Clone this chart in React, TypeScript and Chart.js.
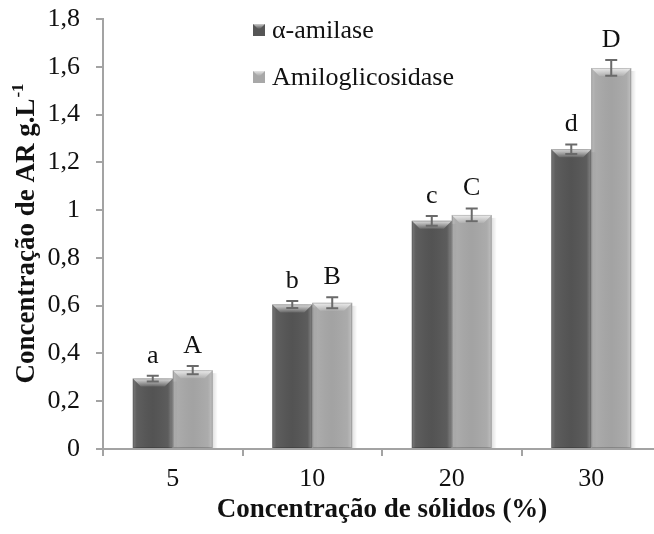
import React, { useEffect, useRef } from "react";
import { Chart, registerables } from "chart.js";

Chart.register(...registerables);

// Solids concentration (%) on the category axis
const categories = ["5", "10", "20", "30"];

// Reducing sugars (g/L) per enzyme, with standard deviations
const amilaseValues = [0.295, 0.605, 0.955, 1.255];
const amilaseErrors = [0.012, 0.015, 0.02, 0.02];
const amiloglicosidaseValues = [0.33, 0.612, 0.98, 1.595];
const amiloglicosidaseErrors = [0.017, 0.023, 0.027, 0.033];

// Significance letters above each bar
const amilaseLetters = ["a", "b", "c", "d"];
const amiloglicosidaseLetters = ["A", "B", "C", "D"];

const seriesLabels = ["α-amilase", "Amiloglicosidase"];
const seriesColors = ["#565656", "#a8a8a8"];

const yMin = 0;
const yMax = 1.8;
const yStep = 0.2;

const xTitle = "Concentração de sólidos (%)";
const yTitleMain = "Concentração de AR g.L";
const yTitleSup = "-1";

const FONT = '"Liberation Serif", "Times New Roman", serif';
const TEXT_SIZE = 26;
const TITLE_SIZE = 27;
const AXIS_GREY = "#a3a3a3";

const errorSets = [amilaseErrors, amiloglicosidaseErrors];
const letterSets = [amilaseLetters, amiloglicosidaseLetters];

const formatTick = (v: number) => String(Number(v.toFixed(1))).replace(".", ",");

// Bevelled look for the bars: lighter sides and a bright top chamfer
const barStylePlugin = {
  id: "barStyle",
  afterDatasetsDraw(chart: any) {
    const ctx = chart.ctx;
    chart.data.datasets.forEach((_ds: any, di: number) => {
      const meta = chart.getDatasetMeta(di);
      meta.data.forEach((bar: any) => {
        const { x, y, base, width } = bar.getProps(["x", "y", "base", "width"], true);
        const x0 = x - width / 2;
        const x1 = x + width / 2;
        const h = base - y;
        ctx.save();
        const sg = ctx.createLinearGradient(x1, 0, x1 + 5, 0);
        sg.addColorStop(0, "rgba(0,0,0,0.12)");
        sg.addColorStop(1, "rgba(0,0,0,0)");
        ctx.fillStyle = sg;
        ctx.fillRect(x1, y + 3, 5, h - 3);

        const g = ctx.createLinearGradient(x0, 0, x1, 0);
        g.addColorStop(0, "rgba(255,255,255,0.22)");
        g.addColorStop(0.1, "rgba(255,255,255,0.05)");
        g.addColorStop(0.5, "rgba(0,0,0,0.03)");
        g.addColorStop(0.88, "rgba(255,255,255,0.04)");
        g.addColorStop(1, "rgba(255,255,255,0.28)");
        ctx.fillStyle = g;
        ctx.fillRect(x0, y, width, h);

        const b = 8;
        ctx.beginPath();
        ctx.moveTo(x0, y);
        ctx.lineTo(x1, y);
        ctx.lineTo(x1 - b, y + b);
        ctx.lineTo(x0 + b, y + b);
        ctx.closePath();
        const tg = ctx.createLinearGradient(0, y, 0, y + b);
        tg.addColorStop(0, "rgba(255,255,255,0.8)");
        tg.addColorStop(1, "rgba(255,255,255,0.1)");
        ctx.fillStyle = tg;
        ctx.fill();

        ctx.strokeStyle = "rgba(0,0,0,0.18)";
        ctx.lineWidth = 1;
        ctx.strokeRect(x0 + 0.5, y + 0.5, width - 1, h - 1);
        ctx.restore();
      });
    });
  },
};

// Error bars and significance letters
const annotationsPlugin = {
  id: "annotations",
  afterDatasetsDraw(chart: any) {
    const ctx = chart.ctx;
    const yScale = chart.scales.y;
    chart.data.datasets.forEach((ds: any, di: number) => {
      const meta = chart.getDatasetMeta(di);
      meta.data.forEach((bar: any, i: number) => {
        const v = ds.data[i];
        const e = errorSets[di][i];
        const x = bar.x;
        const top = yScale.getPixelForValue(v + e);
        const bot = yScale.getPixelForValue(v - e);
        ctx.save();
        ctx.strokeStyle = "#6a6a6a";
        ctx.lineWidth = 2;
        ctx.beginPath();
        ctx.moveTo(x, top);
        ctx.lineTo(x, bot);
        ctx.moveTo(x - 6, top);
        ctx.lineTo(x + 6, top);
        ctx.moveTo(x - 6, bot);
        ctx.lineTo(x + 6, bot);
        ctx.stroke();

        ctx.fillStyle = "#111";
        ctx.font = `${TEXT_SIZE}px ${FONT}`;
        ctx.textAlign = "center";
        ctx.textBaseline = "alphabetic";
        ctx.fillText(letterSets[di][i], x, top - 13);
        ctx.restore();
      });
    });
  },
};

// Legend inside the plot, axis titles
const decorPlugin = {
  id: "decor",
  afterDraw(chart: any) {
    const ctx = chart.ctx;
    const area = chart.chartArea;
    ctx.save();

    // legend
    const lx = 253;
    const rows = [24, 71];
    seriesLabels.forEach((label, i) => {
      const sy = rows[i];
      ctx.fillStyle = seriesColors[i];
      ctx.fillRect(lx, sy, 12, 12);
      const tg = ctx.createLinearGradient(0, sy, 0, sy + 5);
      tg.addColorStop(0, "rgba(255,255,255,0.7)");
      tg.addColorStop(1, "rgba(255,255,255,0)");
      ctx.fillStyle = tg;
      ctx.beginPath();
      ctx.moveTo(lx, sy);
      ctx.lineTo(lx + 12, sy);
      ctx.lineTo(lx + 7, sy + 5);
      ctx.lineTo(lx + 5, sy + 5);
      ctx.closePath();
      ctx.fill();
      ctx.fillStyle = "#111";
      ctx.font = `${TEXT_SIZE}px ${FONT}`;
      ctx.textAlign = "left";
      ctx.textBaseline = "alphabetic";
      ctx.fillText(label, lx + 19, sy + 14);
    });

    // x axis title
    ctx.fillStyle = "#111";
    ctx.font = `bold ${TITLE_SIZE}px ${FONT}`;
    ctx.textAlign = "center";
    ctx.textBaseline = "alphabetic";
    ctx.fillText(xTitle, (area.left + area.right) / 2, 517);

    // y axis title with superscript
    const cy = (area.top + area.bottom) / 2;
    ctx.translate(34, cy);
    ctx.rotate(-Math.PI / 2);
    ctx.font = `bold ${TITLE_SIZE}px ${FONT}`;
    const wMain = ctx.measureText(yTitleMain).width;
    ctx.font = `bold 17px ${FONT}`;
    const wSup = ctx.measureText(yTitleSup).width;
    const start = -(wMain + wSup) / 2;
    ctx.textAlign = "left";
    ctx.font = `bold ${TITLE_SIZE}px ${FONT}`;
    ctx.fillText(yTitleMain, start, 0);
    ctx.font = `bold 17px ${FONT}`;
    ctx.fillText(yTitleSup, start + wMain + 1, -11);
    ctx.restore();
  },
};

export default function App() {
  const canvasRef = useRef<HTMLCanvasElement | null>(null);

  useEffect(() => {
    if (!canvasRef.current) return;
    const chart = new Chart(canvasRef.current, {
      type: "bar",
      data: {
        labels: categories,
        datasets: [
          {
            label: seriesLabels[0],
            data: amilaseValues,
            backgroundColor: seriesColors[0],
            borderWidth: 0,
          },
          {
            label: seriesLabels[1],
            data: amiloglicosidaseValues,
            backgroundColor: seriesColors[1],
            borderWidth: 0,
          },
        ],
      },
      options: {
        responsive: false,
        animation: false,
        events: [],
        layout: { padding: { top: 19, right: 1, left: 0, bottom: 0 } },
        plugins: {
          legend: { display: false },
          tooltip: { enabled: false },
        },
        datasets: {
          bar: { categoryPercentage: 0.573, barPercentage: 1 },
        },
        scales: {
          x: {
            type: "category",
            offset: true,
            grid: {
              offset: true,
              drawOnChartArea: false,
              drawTicks: true,
              tickLength: 7,
              color: AXIS_GREY,
              lineWidth: 2,
            },
            border: { color: AXIS_GREY, width: 2 },
            ticks: {
              color: "#111",
              font: { family: FONT, size: TEXT_SIZE },
              padding: 8,
              maxRotation: 0,
            },
            afterFit: (scale: any) => {
              scale.height = 85;
            },
          },
          y: {
            min: yMin,
            max: yMax,
            grid: {
              drawOnChartArea: false,
              drawTicks: true,
              tickLength: 7,
              color: AXIS_GREY,
              lineWidth: 2,
            },
            border: { color: AXIS_GREY, width: 2 },
            ticks: {
              stepSize: yStep,
              color: "#111",
              font: { family: FONT, size: TEXT_SIZE },
              padding: 16,
              callback: (v: any) => formatTick(Number(v)),
            },
            afterFit: (scale: any) => {
              scale.width = 103;
              scale.paddingTop = 0;
              scale.paddingBottom = 0;
            },
          },
        },
      },
      plugins: [barStylePlugin, annotationsPlugin, decorPlugin],
    });
    return () => chart.destroy();
  }, []);

  return (
    <div
      style={{
        position: "fixed",
        left: 0,
        top: 0,
        width: 662,
        height: 534,
        background: "#fff",
      }}
    >
      <canvas
        ref={canvasRef}
        width={662}
        height={534}
        style={{ display: "block", width: 662, height: 534 }}
      />
    </div>
  );
}
